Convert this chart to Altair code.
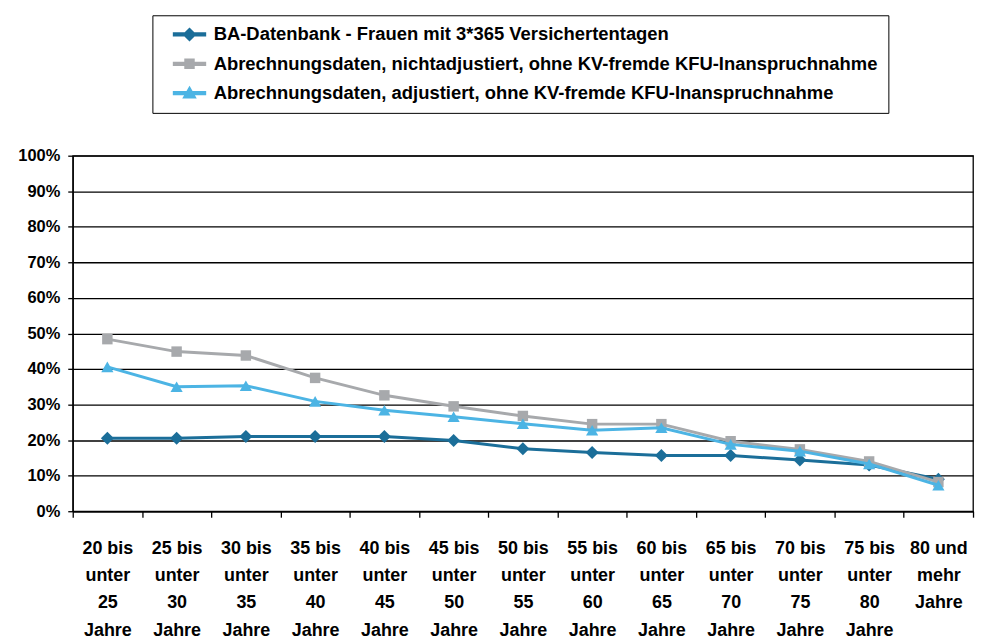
import altair as alt
import pandas as pd

categories = [
    "20 bis\nunter\n25\nJahre", "25 bis\nunter\n30\nJahre", "30 bis\nunter\n35\nJahre",
    "35 bis\nunter\n40\nJahre", "40 bis\nunter\n45\nJahre", "45 bis\nunter\n50\nJahre",
    "50 bis\nunter\n55\nJahre", "55 bis\nunter\n60\nJahre", "60 bis\nunter\n65\nJahre",
    "65 bis\nunter\n70\nJahre", "70 bis\nunter\n75\nJahre", "75 bis\nunter\n80\nJahre",
    "80 und\nmehr\nJahre",
]
series_names = [
    "BA-Datenbank - Frauen mit 3*365 Versichertentagen",
    "Abrechnungsdaten, nichtadjustiert, ohne KV-fremde KFU-Inanspruchnahme",
    "Abrechnungsdaten, adjustiert, ohne KV-fremde KFU-Inanspruchnahme",
]
ba_values = [20.5, 20.5, 21.0, 21.0, 21.0, 19.9, 17.6, 16.5, 15.7, 15.7, 14.4, 13.0, 9.0]
nicht_values = [48.4, 44.9, 43.8, 37.5, 32.6, 29.5, 26.8, 24.5, 24.5, 19.7, 17.4, 14.0, 8.2]
adj_values = [40.6, 35.0, 35.3, 30.9, 28.4, 26.6, 24.6, 22.8, 23.5, 18.8, 16.9, 13.3, 7.3]
colors = ["#1b6e99", "#a7a9ac", "#4cb4e4"]
shapes = ["diamond", "square", "triangle-up"]
marker_sizes = [170, 110, 150]
legend_paths = [
    "M-3.2,-0.28H3.2V0.28H-3.2Z M0,-1.2L1.2,0L0,1.2L-1.2,0Z",
    "M-3.2,-0.28H3.2V0.28H-3.2Z M-0.9,-0.9H0.9V0.9H-0.9Z",
    "M-3.2,-0.28H3.2V0.28H-3.2Z M0,-1.2L1.2,0.9L-1.2,0.9Z",
]

rows = []
for name, vals in zip(series_names, [ba_values, nicht_values, adj_values]):
    for c, v in zip(categories, vals):
        rows.append({"kat": c, "serie": name, "wert": v / 100.0})
df = pd.DataFrame(rows)

FONT = "Liberation Sans, Arial, sans-serif"

x_enc = alt.X(
    "kat:N", sort=categories, title=None,
    scale=alt.Scale(type="band", paddingInner=0, paddingOuter=0),
    axis=alt.Axis(
        labelExpr="split(datum.label, '\\n')", labelAngle=0, labelFont=FONT,
        labelFontSize=18, labelFontWeight="bold", labelColor="black",
        labelLineHeight=27.5, labelPadding=22, tickBand="extent", tickSize=6,
        tickColor="black", domainColor="black", domainWidth=1.3, tickWidth=1.3,
        grid=False, labelBaseline="top",
    ),
)
y_axis = alt.Axis(
    values=[i / 10 for i in range(11)], format=".0%", labelFont=FONT,
    labelFontSize=16.5, labelFontWeight="bold", labelColor="black",
    labelPadding=8, tickSize=5, tickColor="black", domainColor="black",
    domainWidth=1.3, tickWidth=1.3, grid=True, gridColor="black", gridWidth=1.3,
)
y_scale = alt.Scale(domain=[0, 1], nice=False)
y_enc = alt.Y("wert:Q", title=None, scale=y_scale, axis=y_axis)
color_scale = alt.Scale(domain=series_names, range=colors)

legend_props = dict(
    title=None, orient="none", legendX=80, legendY=-141, direction="vertical",
    fillColor="white", strokeColor="black", padding=10, rowPadding=10.5,
    labelFont=FONT, labelFontSize=18.5, labelFontWeight="bold", labelColor="black",
    labelLimit=900, symbolSize=100, symbolOffset=18, labelOffset=15,
)
color_enc = alt.Color("serie:N", scale=color_scale, legend=alt.Legend(**legend_props))

layers = []
for name, shp, sz in zip(series_names, shapes, marker_sizes):
    base = alt.Chart(df).transform_filter(alt.datum.serie == name)
    layers.append(base.mark_line(strokeWidth=3).encode(x=x_enc, y=y_enc, color=color_enc))
    layers.append(base.mark_point(filled=True, opacity=1, size=sz, shape=shp).encode(
        x=x_enc, y=y_enc, color=color_enc))

legend_layer = alt.Chart(df).transform_calculate(leer="null").mark_point(
    filled=True, opacity=1
).encode(
    x=x_enc,
    y=alt.Y("leer:Q", title=None, scale=y_scale, axis=y_axis),
    color=color_enc,
    shape=alt.Shape("serie:N", scale=alt.Scale(domain=series_names, range=legend_paths),
                    legend=alt.Legend(**legend_props)),
)

chart = alt.layer(*layers, legend_layer).properties(
    width=904, height=357,
    autosize=alt.AutoSizeParams(type="none"),
    padding={"left": 65, "top": 147, "right": 4, "bottom": 130},
).configure_view(stroke="black", strokeWidth=1.3)

chart.save("out.html", embed_options={"renderer": "svg", "actions": False})
